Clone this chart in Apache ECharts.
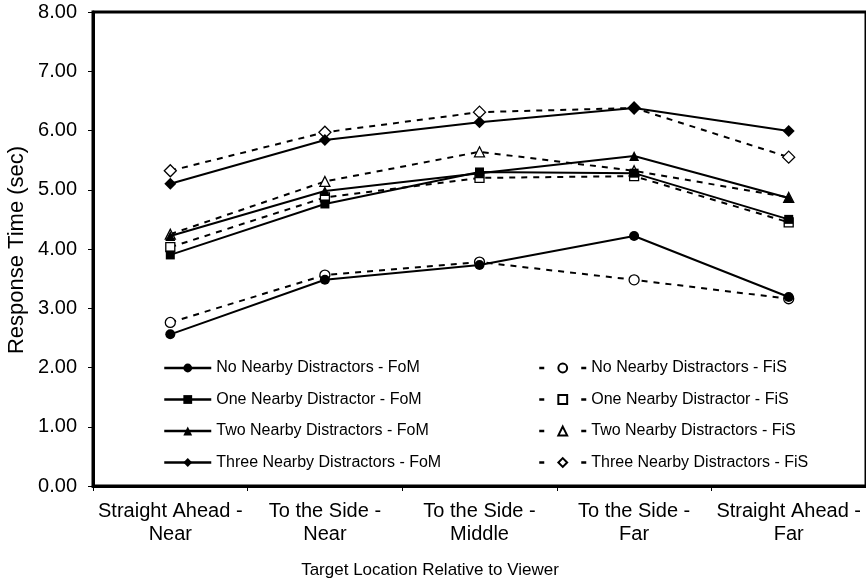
<!DOCTYPE html>
<html>
<head>
<meta charset="utf-8">
<script src="https://cdn.jsdelivr.net/npm/echarts@6/dist/echarts.min.js"></script>
<style>
html,body{margin:0;padding:0;background:#fff;}
#chart{width:866px;height:588px;}
</style>
</head>
<body>
<div id="chart"></div>
<script>
const categories = ['Straight Ahead -\nNear', 'To the Side -\nNear', 'To the Side -\nMiddle', 'To the Side -\nFar', 'Straight Ahead -\nFar'];
const yTicks = [0, 1, 2, 3, 4, 5, 6, 7, 8];

const noneFoM  = [2.56, 3.48, 3.73, 4.22, 3.19];
const oneFoM   = [3.90, 4.76, 5.30, 5.28, 4.50];
const twoFoM   = [4.22, 4.98, 5.28, 5.57, 4.86];
const threeFoM = [5.10, 5.84, 6.14, 6.38, 5.99];
const noneFiS  = [2.76, 3.56, 3.78, 3.48, 3.16];
const oneFiS   = [4.03, 4.87, 5.20, 5.23, 4.45];
const twoFiS   = [4.25, 5.14, 5.64, 5.32, 4.87];
const threeFiS = [5.32, 5.97, 6.31, 6.38, 5.55];

const namesFoM = ['No Nearby Distractors - FoM', 'One Nearby Distractor - FoM', 'Two Nearby Distractors - FoM', 'Three Nearby Distractors - FoM'];
const namesFiS = ['No Nearby Distractors - FiS', 'One Nearby Distractor - FiS', 'Two Nearby Distractors - FiS', 'Three Nearby Distractors - FiS'];

const symbols = ['circle', 'rect', 'triangle', 'diamond'];
const sizes = [10, 9, 10, 12];

function makeSeries(name, data, idx, filled) {
  return {
    name: name,
    type: 'line',
    data: data,
    symbol: symbols[idx],
    symbolSize: sizes[idx],
    showSymbol: true,
    z: filled ? 3 : 2,
    lineStyle: { color: '#000', width: 2, type: filled ? 'solid' : [6, 6] },
    itemStyle: filled ? { color: '#000', borderColor: '#000', borderWidth: 0 }
                      : { color: '#fff', borderColor: '#000', borderWidth: 1.3 },
    emphasis: { disabled: true }
  };
}

const fom = [noneFoM, oneFoM, twoFoM, threeFoM];
const fis = [noneFiS, oneFiS, twoFiS, threeFiS];
const series = [];
for (let i = 0; i < 4; i++) series.push(makeSeries(namesFoM[i], fom[i], i, true));
for (let i = 0; i < 4; i++) series.push(makeSeries(namesFiS[i], fis[i], i, false));

const legendFont = { color: '#000', fontSize: 16, lineHeight: 16, fontFamily: "'Liberation Sans', Arial, sans-serif" };

const chart = echarts.init(document.getElementById('chart'), null, { renderer: 'canvas' });
chart.setOption({
  animation: false,
  backgroundColor: '#fff',
  textStyle: { fontFamily: "'Liberation Sans', Arial, sans-serif" },
  grid: { left: 93, top: 12, width: 776, height: 474, show: true, borderColor: '#000', borderWidth: 3, backgroundColor: 'transparent' },
  legend: [
    {
      orient: 'vertical', left: 158, top: 355, itemWidth: 47, itemHeight: 11, itemGap: 15.5,
      textStyle: legendFont, selectedMode: false,
      data: namesFoM.map(n => ({ name: n, lineStyle: { width: 2.5 } }))
    },
    {
      orient: 'vertical', left: 533, top: 355, itemWidth: 47, itemHeight: 11, itemGap: 15.5,
      textStyle: legendFont, selectedMode: false,
      data: namesFiS.map(n => ({ name: n, lineStyle: { type: [5, 37], width: 2.5 } }))
    }
  ],
  xAxis: {
    type: 'category',
    data: categories,
    boundaryGap: true,
    axisLine: { lineStyle: { color: '#000', width: 3 } },
    axisTick: { show: true, length: 5, lineStyle: { color: '#000', width: 1 } },
    axisLabel: { color: '#000', fontSize: 20, lineHeight: 23, margin: 14, interval: 0 },
    splitLine: { show: false }
  },
  yAxis: {
    type: 'value',
    min: yTicks[0],
    max: yTicks[yTicks.length - 1],
    interval: 1,
    axisLine: { show: true, lineStyle: { color: '#000', width: 3 } },
    axisTick: { show: true, length: 5, lineStyle: { color: '#000', width: 1 } },
    axisLabel: { color: '#000', fontSize: 20, margin: 16, formatter: v => v.toFixed(2) },
    splitLine: { show: false }
  },
  graphic: [
    {
      type: 'text', x: 17, y: 250, rotation: Math.PI / 2,
      style: { text: 'Response Time (sec)', fill: '#000', font: "22px 'Liberation Sans', Arial, sans-serif", textAlign: 'center', textVerticalAlign: 'middle' }
    },
    {
      type: 'text', x: 430, y: 570,
      style: { text: 'Target Location Relative to Viewer', fill: '#000', font: "17px 'Liberation Sans', Arial, sans-serif", textAlign: 'center', textVerticalAlign: 'middle' }
    }
  ],
  series: series
});
</script>
</body>
</html>
